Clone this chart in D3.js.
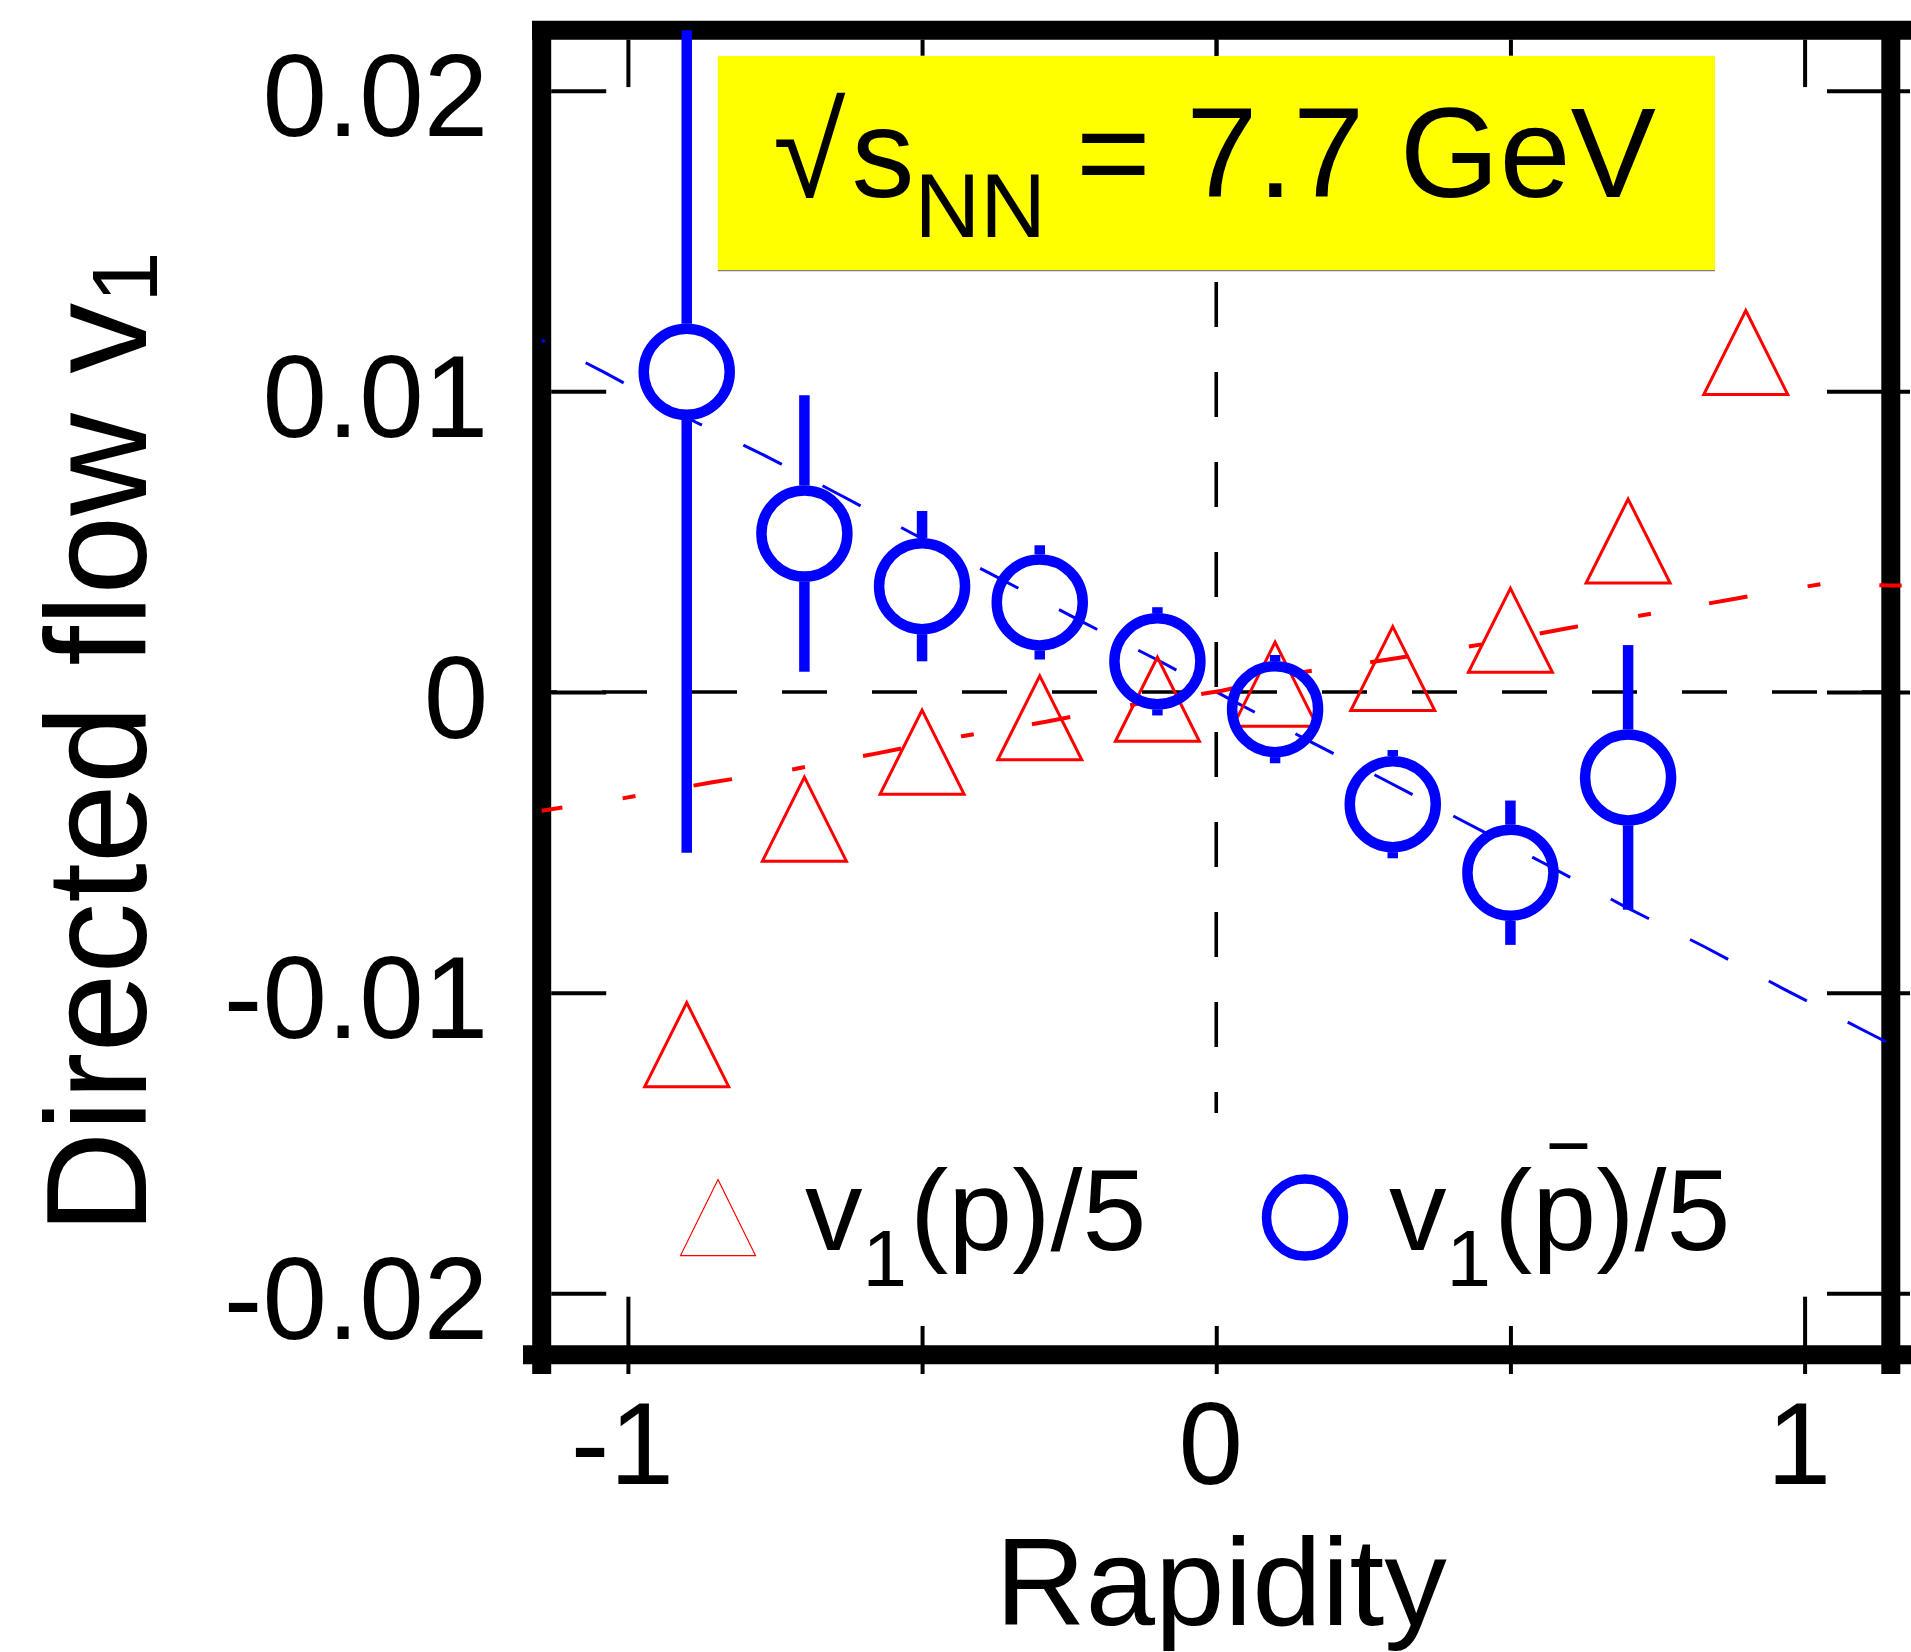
<!DOCTYPE html>
<html><head><meta charset="utf-8">
<script src="https://cdn.jsdelivr.net/npm/d3@7"></script>
<style>html,body{margin:0;padding:0;background:#fff;} svg{display:block;}</style>
</head><body>
<svg id="chart" width="1911" height="1652"></svg>
<script>
// ---------------- data ----------------
const rapidityP = [-0.9, -0.7, -0.5, -0.3, -0.1, 0.1, 0.3, 0.5, 0.7, 0.9];
const v1P = [-0.01173, -0.00423, -0.0020, -0.00086, -0.00024, 0.00026, 0.00078, 0.00205, 0.00502, 0.01129];

const rapidityPbar = [-0.9, -0.7, -0.5, -0.3, -0.1, 0.1, 0.3, 0.5, 0.7];
const v1Pbar = [0.01065, 0.00527, 0.00352, 0.00298, 0.00102, -0.00057, -0.00373, -0.00601, -0.00284];
const errPbar = [0.0160, 0.0046, 0.0025, 0.0019, 0.0018, 0.0018, 0.0018, 0.0024, 0.0044];

const modelPbarX = [-1.1465, -1.0408, -0.8844, -0.7688, -0.6312, -0.5173, -0.3626, -0.2275, -0.0915, 0.0215, 0.1549, 0.2894, 0.4240, 0.5594, 0.6929, 0.8305, 0.9648, 1.0991, 1.165];
const modelPbarY = [0.01170, 0.01064, 0.00897, 0.00788, 0.00647, 0.00528, 0.00372, 0.00233, 0.00098, -0.00022, -0.0016, -0.00296, -0.00434, -0.00572, -0.00712, -0.00848, -0.00988, -0.01124, -0.01190];

const modelPX = [-1.1465, -1.0068, -0.8589, -0.7162, -0.5785, -0.4323, -0.2896, -0.1230, 0.0096, 0.1439, 0.3087, 0.4532, 0.5994, 0.7439, 0.8867, 1.0312, 1.1462, 1.165];
const modelPY = [-0.00395, -0.00353, -0.00301, -0.00256, -0.00205, -0.00147, -0.00099, -0.00035, 0.00004, 0.00065, 0.00113, 0.00159, 0.00213, 0.00262, 0.00312, 0.0036, 0.00354, 0.00354];

const xTickValues = [-1, 0, 1];
const xTickLabels = ["-1", "0", "1"];
const xMinorTicks = [-0.5, 0, 0.5];
const yTickValues = [-0.02, -0.01, 0, 0.01, 0.02];
const yTickLabels = ["-0.02", "-0.01", "0", "0.01", "0.02"];
const vLineBottom = -0.014;

// ---------------- setup ----------------
const W = 1911, H = 1652;
const FONT = "'Liberation Sans', Arial, Helvetica, sans-serif";
const svg = d3.select("#chart").attr("font-family", FONT);
svg.append("rect").attr("width", W).attr("height", H).attr("fill", "#fff");

const x = d3.scaleLinear().domain([-1.1465, 1.1465]).range([541.7, 1890.8]);
const y = d3.scaleLinear().domain([-0.02204, 0.02201]).range([1354.7, 30.2]);
const FW = 19;
const [xL, xR] = x.range();
const [yB, yT] = y.range();
const innerL = xL + FW / 2, innerT = yT + FW / 2;

svg.append("defs").append("clipPath").attr("id", "plotclip")
  .append("rect").attr("x", xL).attr("y", yT).attr("width", xR - xL).attr("height", yB - yT);

// ---------------- zero lines ----------------
svg.append("line")
  .attr("x1", x(x.domain()[0])).attr("x2", x(x.domain()[1]))
  .attr("y1", y(0)).attr("y2", y(0))
  .attr("stroke", "#000").attr("stroke-width", 3.7)
  .attr("stroke-dasharray", "45,45").attr("stroke-dashoffset", 29.7);
svg.append("line")
  .attr("x1", x(0)).attr("x2", x(0))
  .attr("y1", y(y.domain()[1])).attr("y2", y(vLineBottom))
  .attr("stroke", "#000").attr("stroke-width", 3.6)
  .attr("stroke-dasharray", "45,45").attr("stroke-dashoffset", 18.2);

// ---------------- frame ----------------
const frame = svg.append("g").attr("stroke", "#000").attr("stroke-width", FW);
frame.append("line").attr("x1", 532).attr("x2", W).attr("y1", yT).attr("y2", yT);
frame.append("line").attr("x1", 523).attr("x2", W).attr("y1", yB).attr("y2", yB);
frame.append("line").attr("x1", xL).attr("x2", xL).attr("y1", 21).attr("y2", 1374);
frame.append("line").attr("x1", xR).attr("x2", xR).attr("y1", 21).attr("y2", 1374);

// ---------------- axes / ticks ----------------
function styleAxis(g) {
  g.select(".domain").remove();
  g.selectAll(".tick line").attr("stroke", "#000").attr("stroke-width", 4);
  g.selectAll(".tick text").attr("fill", "#000").attr("font-size", 116).attr("font-family", FONT);
}
svg.append("g").attr("transform", `translate(${innerL},0)`)
  .call(d3.axisLeft(y).tickValues(yTickValues).tickSize(-55).tickPadding(63)
    .tickFormat((d, i) => yTickLabels[i]))
  .call(styleAxis)
  .call(g => g.selectAll(".tick text").attr("dy", "0.39em"));
svg.append("g").attr("transform", `translate(${W - 1},0)`)
  .call(d3.axisRight(y).tickValues(yTickValues).tickSize(-83).tickFormat(""))
  .call(styleAxis);
svg.append("g").attr("transform", `translate(0,${innerT})`)
  .call(d3.axisTop(x).tickValues(xTickValues.filter(d => d !== 0)).tickSize(-47.4).tickFormat(""))
  .call(styleAxis);
svg.append("g").attr("transform", `translate(0,${innerT})`)
  .call(d3.axisTop(x).tickValues(xMinorTicks).tickSize(-16).tickFormat(""))
  .call(styleAxis);
svg.append("g").attr("transform", `translate(0,1374)`)
  .call(d3.axisBottom(x).tickValues(xTickValues.filter(d => d !== 0)).tickSize(-77.3).tickFormat(""))
  .call(styleAxis);
svg.append("g").attr("transform", `translate(0,1374)`)
  .call(d3.axisBottom(x).tickValues(xMinorTicks).tickSize(-48).tickFormat(""))
  .call(styleAxis);
svg.append("g").attr("transform", `translate(0,1484)`)
  .call(d3.axisBottom(x).tickValues(xTickValues).tickSize(0).tickPadding(0)
    .tickFormat((d, i) => xTickLabels[i]))
  .call(styleAxis)
  .call(g => g.selectAll(".tick text").attr("dy", 0).attr("dx", -6));

// ---------------- axis titles ----------------
svg.append("text")
  .attr("x", 1221).attr("y", 1625).attr("text-anchor", "middle")
  .attr("font-size", 125).attr("fill", "#000").text("Rapidity");

const yt = svg.append("text")
  .attr("transform", "translate(146.4,1234) rotate(-90)")
  .attr("font-size", 142).attr("fill", "#000");
yt.append("tspan").text("Directed flow v");
yt.append("tspan").attr("font-size", 92).attr("dy", 11).text("1");

// ---------------- energy label ----------------
svg.append("rect").attr("x", 717.8).attr("y", 56).attr("width", 997.2).attr("height", 214.7).attr("fill", "#ffff00");
svg.append("line").attr("x1", 717.8).attr("x2", 1715).attr("y1", 270.7).attr("y2", 270.7)
  .attr("stroke", "#808080").attr("stroke-width", 1.2);
const et = svg.append("text").attr("x", 773).attr("y", 197).attr("font-size", 128).attr("fill", "#000");
et.append("tspan").attr("font-size", 132).text("\u221A");
et.append("tspan").attr("font-size", 126).attr("dx", 6).text("s");
et.append("tspan").attr("dy", 40).attr("font-size", 91).text("NN");
et.append("tspan").attr("x", 1076).attr("dy", -40).text("= 7.7 GeV");

// ---------------- model curves ----------------
const line = d3.line().x(d => x(d[0])).y(d => y(d[1]));
svg.append("path")
  .datum(modelPbarX.map((v, i) => [v, modelPbarY[i]]))
  .attr("d", line).attr("fill", "none").attr("stroke", "#0000ff").attr("stroke-width", 3)
  .attr("stroke-dasharray", "43,46").attr("stroke-dashoffset", 39.6);
svg.append("path")
  .datum(modelPX.map((v, i) => [v, modelPY[i]]))
  .attr("d", line).attr("fill", "none").attr("stroke", "#ff0000").attr("stroke-width", 4)
  .attr("stroke-dasharray", "39,61,13,59").attr("stroke-dashoffset", 18.1);

// ---------------- markers ----------------
const markers = svg.append("g").attr("clip-path", "url(#plotclip)");
const TW = 84, TH = 84;
const triPath = (w, h) => `M0,${-h / 2}L${w / 2},${h / 2}L${-w / 2},${h / 2}Z`;
markers.selectAll("path.tri").data(rapidityP).join("path").attr("class", "tri")
  .attr("transform", (d, i) => `translate(${x(d)},${y(v1P[i])})`)
  .attr("d", triPath(TW, TH)).attr("fill", "none").attr("stroke", "#ff0000").attr("stroke-width", 3);

const R = 43, RO = 48;
const pbar = rapidityPbar.map((d, i) => ({ x: d, v: v1Pbar[i], e: errPbar[i] }));
markers.selectAll("line.eup").data(pbar).join("line").attr("class", "eup")
  .attr("x1", d => x(d.x)).attr("x2", d => x(d.x))
  .attr("y1", d => y(d.v + d.e)).attr("y2", d => y(d.v) - RO)
  .attr("stroke", "#0000ff").attr("stroke-width", 10.5);
markers.selectAll("line.edn").data(pbar).join("line").attr("class", "edn")
  .attr("x1", d => x(d.x)).attr("x2", d => x(d.x))
  .attr("y1", d => y(d.v) + RO).attr("y2", d => y(d.v - d.e))
  .attr("stroke", "#0000ff").attr("stroke-width", 10.5);
markers.selectAll("circle.pb").data(pbar).join("circle").attr("class", "pb")
  .attr("cx", d => x(d.x)).attr("cy", d => y(d.v)).attr("r", R)
  .attr("fill", "none").attr("stroke", "#0000ff").attr("stroke-width", 10.5);

// ---------------- legend ----------------
const LY = 1217.6;
svg.append("path").attr("transform", `translate(718,${LY})`).attr("d", triPath(75, 76))
  .attr("fill", "none").attr("stroke", "#ff0000").attr("stroke-width", 1.2);
svg.append("circle").attr("cx", 1305).attr("cy", LY).attr("r", 38.5)
  .attr("fill", "none").attr("stroke", "#0000ff").attr("stroke-width", 9.5);

function legendText(x0, pbarLabel) {
  const t = svg.append("text").attr("x", x0).attr("y", 1249.5).attr("font-size", 115).attr("fill", "#000");
  t.append("tspan").text("v");
  t.append("tspan").attr("font-size", 80).attr("dy", 36).text("1");
  t.append("tspan").attr("dy", -36).attr("dx", 3).text("(p)/5");
  if (pbarLabel) {
    const ext = t.node().getExtentOfChar(3);
    svg.append("rect").attr("x", ext.x + 0.27 * ext.width).attr("y", 1143.3)
      .attr("width", 0.59 * ext.width).attr("height", 5.7).attr("fill", "#000");
  }
}
legendText(805, false);
legendText(1389, true);
</script>
</body></html>
